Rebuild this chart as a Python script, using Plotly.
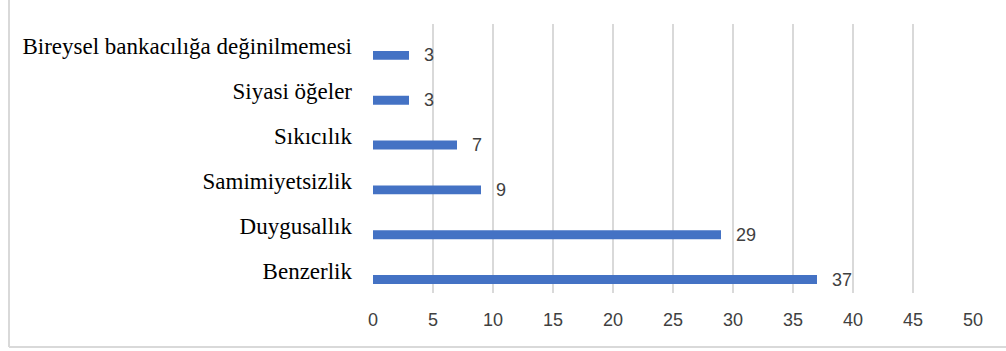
import plotly.graph_objects as go

# Category names, bottom to top
categories = [
    "Benzerlik",
    "Duygusallık",
    "Samimiyetsizlik",
    "Sıkıcılık",
    "Siyasi öğeler",
    "Bireysel bankacılığa değinilmemesi",
]
counts = [37, 29, 9, 7, 3, 3]
x_ticks = [0, 5, 10, 15, 20, 25, 30, 35, 40, 45, 50]

W, H = 1006, 351
M_L, M_R, M_T, M_B = 373, 33, 24, 58

num_font = dict(family="Liberation Sans, Arial, sans-serif", size=18, color="#404040")

fig = go.Figure()
fig.add_trace(go.Bar(
    x=counts,
    y=categories,
    orientation="h",
    marker=dict(color="#4472C4", line=dict(width=0)),
    width=0.2,
    offset=-0.3,
    hoverinfo="x+y",
))

# value labels just past the end of each bar
for cat, val in zip(categories, counts):
    fig.add_annotation(
        x=val, y=cat, text=str(val), showarrow=False,
        xanchor="left", yanchor="middle", xshift=13, yshift=-9,
        font=num_font,
    )

# light frame on the left and bottom edges of the chart
pw = W - M_L - M_R
ph = H - M_T - M_B
def px_x(p):
    return (p - M_L) / pw
def px_y(p):
    return (H - M_B - p) / ph

frame = dict(color="#d9d9d9", width=2)
fig.add_shape(type="line", xref="paper", yref="paper",
              x0=px_x(9), x1=px_x(9), y0=px_y(-5), y1=px_y(347), line=frame)
fig.add_shape(type="line", xref="paper", yref="paper",
              x0=px_x(9), x1=px_x(W + 5), y0=px_y(347), y1=px_y(347), line=frame)

fig.update_layout(
    width=W, height=H,
    margin=dict(l=M_L, r=M_R, t=M_T, b=M_B, pad=0),
    paper_bgcolor="white",
    plot_bgcolor="white",
    showlegend=False,
    xaxis=dict(
        range=[0, 50],
        tickvals=x_ticks,
        showgrid=True, gridcolor="#d9d9d9", gridwidth=2,
        zeroline=False, showline=False,
        ticks="", ticklabelstandoff=14,
        tickfont=num_font,
        fixedrange=True,
    ),
    yaxis=dict(
        categoryorder="array", categoryarray=categories,
        range=[-0.5, len(categories) - 0.5],
        showgrid=False, zeroline=False, showline=False,
        ticks="", ticklabelstandoff=20,
        tickfont=dict(family="Liberation Serif, Times New Roman, serif", size=23, color="#000000"),
        fixedrange=True,
    ),
)

fig.write_html("out.html")
